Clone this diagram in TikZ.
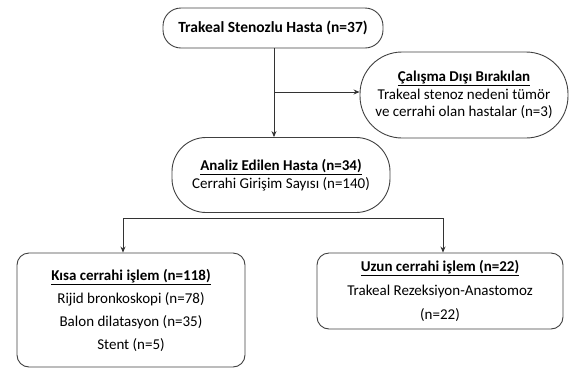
\documentclass[tikz,border=0pt]{standalone}
\usepackage{fontspec}
\setmainfont{Carlito}
\usetikzlibrary{arrows.meta}
\tikzset{
  box/.style={draw=black!75, line width=0.9pt, align=center, inner sep=0pt, font=\fontsize{15}{18}\selectfont},
  arr/.style={draw=black!80, line width=0.8pt, -{Stealth[length=6pt,width=5pt]}},
  ln/.style={draw=black!80, line width=0.8pt}
}
\begin{document}
\begin{tikzpicture}[x=1pt,y=-1pt]
\useasboundingbox (0,0) rectangle (579,368);
\node[box, rounded corners=18pt, minimum width=220pt, minimum height=40pt,
  font=\fontsize{15.5}{18}\selectfont] (top) at (273,28)
  {\textbf{Trakeal Stenozlu Hasta (n=37)}};
\node[box, rounded corners=42pt, minimum width=208pt, minimum height=86pt,
  font=\fontsize{15}{17.5}\selectfont] (excl) at (464,95)
  {\textbf{\underline{Çalışma Dışı Bırakılan}}\\Trakeal stenoz nedeni tümör\\ve cerrahi olan hastalar (n=3)};
\node[box, rounded corners=34pt, minimum width=218pt, minimum height=75pt] (anl) at (281,175)
  {\textbf{\underline{Analiz Edilen Hasta (n=34)}}\\Cerrahi Girişim Sayısı (n=140)};
\node[box, rounded corners=12pt, minimum width=228pt, minimum height=114pt,
  font=\fontsize{15}{23}\selectfont] (kisa) at (131,310)
  {\textbf{\underline{Kısa cerrahi işlem (n=118)}}\\Rijid bronkoskopi (n=78)\\Balon dilatasyon (n=35)\\Stent (n=5)};
\node[box, rounded corners=12pt, minimum width=246pt, minimum height=76pt,
  font=\fontsize{15}{24}\selectfont] (uzun) at (440,291)
  {\textbf{\underline{Uzun cerrahi işlem (n=22)}}\\Trakeal Rezeksiyon-Anastomoz\\(n=22)};
\coordinate (j) at (274,92);
\coordinate (bl) at (123,218);
\coordinate (br) at (443,218);
\draw[arr] (top.south -| j) -- (j |- anl.north);
\draw[arr] (j) -- (j -| excl.west);
\draw[ln] (bl) -- (br);
\draw[arr] (bl) -- (bl |- kisa.north);
\draw[arr] (br) -- (br |- uzun.north);
\end{tikzpicture}
\end{document}
